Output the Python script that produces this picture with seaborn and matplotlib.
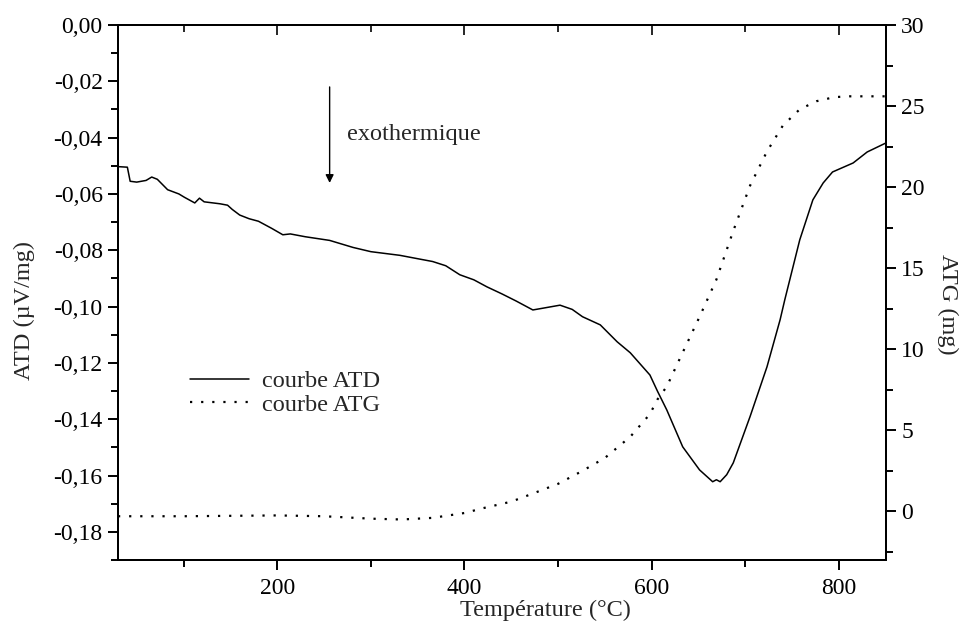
import numpy as np
import pandas as pd
import matplotlib
matplotlib.use("Agg")
import matplotlib.pyplot as plt
from matplotlib.ticker import MultipleLocator, FuncFormatter
import seaborn as sns

# --- données ---
atd_temp = [30, 40, 43, 50, 60, 66, 72, 83, 95, 101, 112, 117, 122, 139, 147, 152,
            160, 170, 180, 194, 206, 214, 230, 246, 256, 281, 300, 331, 350, 366,
            380, 395, 410, 424, 440, 455, 473, 485, 502, 515, 526, 545, 563, 577,
            598, 606, 616, 633, 651, 665, 669, 673, 680, 687, 705, 723, 737, 742,
            758, 772, 783, 793, 815, 830, 850]
atd_val = [-0.0503, -0.0505, -0.0555, -0.0558, -0.0552, -0.0540, -0.0548, -0.0585,
           -0.0600, -0.0612, -0.0632, -0.0615, -0.0628, -0.0635, -0.0640, -0.0655,
           -0.0675, -0.0688, -0.0697, -0.0722, -0.0745, -0.0742, -0.0752, -0.0760,
           -0.0765, -0.0790, -0.0805, -0.0818, -0.0830, -0.0840, -0.0855, -0.0887,
           -0.0905, -0.0930, -0.0955, -0.0980, -0.1012, -0.1005, -0.0995, -0.1010,
           -0.1036, -0.1065, -0.1125, -0.1164, -0.1243, -0.1300, -0.1367, -0.1498,
           -0.1580, -0.1622, -0.1615, -0.1622, -0.1597, -0.1555, -0.1390, -0.1214,
           -0.1047, -0.0976, -0.0763, -0.0621, -0.0561, -0.0522, -0.0490, -0.0451,
           -0.0419]

atg_temp = [30, 100, 200, 250, 300, 333, 366, 400, 420, 450, 473, 500, 526, 550,
            577, 598, 606, 616, 633, 651, 669, 687, 705, 723, 740, 758, 776, 795,
            811, 850]
atg_val = [-0.3, -0.3, -0.25, -0.3, -0.45, -0.5, -0.4, -0.1, 0.2, 0.6, 1.1, 1.7,
           2.5, 3.3, 4.6, 6.0, 6.9, 7.7, 9.8, 12.0, 14.3, 17.3, 20.1, 22.2, 23.8,
           24.8, 25.3, 25.55, 25.6, 25.6]

df_atd = pd.DataFrame({"T": atd_temp, "v": atd_val})
df_atg = pd.DataFrame({"T": atg_temp, "v": atg_val})

sns.set_theme(style="ticks")
plt.rcParams["font.family"] = ["Liberation Serif", "DejaVu Serif"]
fs_tick = 17
fs_lab = 17.5

fig = plt.figure(figsize=(9.64, 6.23), dpi=100)
ax = fig.add_axes([0.1224, 0.1011, 0.7966, 0.8588])
ax2 = ax.twinx()

sns.lineplot(data=df_atd, x="T", y="v", ax=ax, color="black", lw=1.1,
             sort=False, estimator=None, label="courbe ATD", legend=False)
sns.lineplot(data=df_atg, x="T", y="v", ax=ax2, color="black", lw=1.6,
             sort=False, estimator=None, label="courbe ATG", legend=False,
             linestyle=(0, (1, 4)))

ax.set_xlim(30, 850)
ax.set_ylim(-0.19, 0.0)
ax2.set_ylim(-3, 30)

ax.xaxis.set_major_locator(MultipleLocator(200))
ax.xaxis.set_minor_locator(MultipleLocator(100))
ax.yaxis.set_major_locator(MultipleLocator(0.02))
ax.yaxis.set_minor_locator(MultipleLocator(0.01))
ax.yaxis.set_major_formatter(FuncFormatter(lambda v, p: f"{v:.2f}".replace(".", ",").replace("-0,00", "0,00")))
ax2.yaxis.set_major_locator(MultipleLocator(5))
ax2.yaxis.set_minor_locator(MultipleLocator(2.5))
ax2.yaxis.set_major_formatter(FuncFormatter(lambda v, p: f"{v:.0f}"))

for a in (ax, ax2):
    for s in a.spines.values():
        s.set_linewidth(1.4)
        s.set_color("black")
    a.tick_params(which="major", direction="out", length=7, width=1.4,
                  labelsize=fs_tick, colors="black", pad=4)
    a.tick_params(which="minor", direction="out", length=5, width=1.4, colors="black")
ax.tick_params(axis="x", which="major", pad=6)

top = ax.secondary_xaxis("top")
top.xaxis.set_major_locator(MultipleLocator(200))
top.xaxis.set_minor_locator(MultipleLocator(100))
top.tick_params(which="major", direction="in", length=7, width=1.4, labeltop=False)
top.tick_params(which="minor", direction="in", length=5, width=1.4)
top.spines["top"].set_linewidth(1.4)

ax.set_xlabel("")
ax.set_ylabel("")
ax2.set_ylabel("")
fig.text(545 / 964, 1 - 616 / 623, "Température (°C)", fontsize=fs_lab,
         ha="center", va="baseline")
fig.text(24 / 964, 1 - 310 / 623, "ATD (µV/mg)", fontsize=fs_lab,
         rotation=90, ha="center", va="center")
fig.text(948 / 964, 1 - 304 / 623, "ATG (mg)", fontsize=fs_lab,
         rotation=-90, ha="center", va="center")

ax.annotate("", xy=(256, -0.0561), xytext=(256, -0.022),
            arrowprops=dict(arrowstyle="-|>", color="black", lw=1.0,
                            mutation_scale=12, shrinkA=0, shrinkB=0))
ax.text(275, -0.039, "exothermique", fontsize=fs_lab, va="center", ha="left")

h1, l1 = ax.get_legend_handles_labels()
h2, l2 = ax2.get_legend_handles_labels()
ax.legend(h1 + h2, l1 + l2, loc="center left", bbox_to_anchor=(0.094, 0.312),
          frameon=False, fontsize=fs_lab, borderpad=0, borderaxespad=0,
          handlelength=2.4, handletextpad=0.55, labelspacing=0.05)

fig.savefig("out.png", dpi=100)
